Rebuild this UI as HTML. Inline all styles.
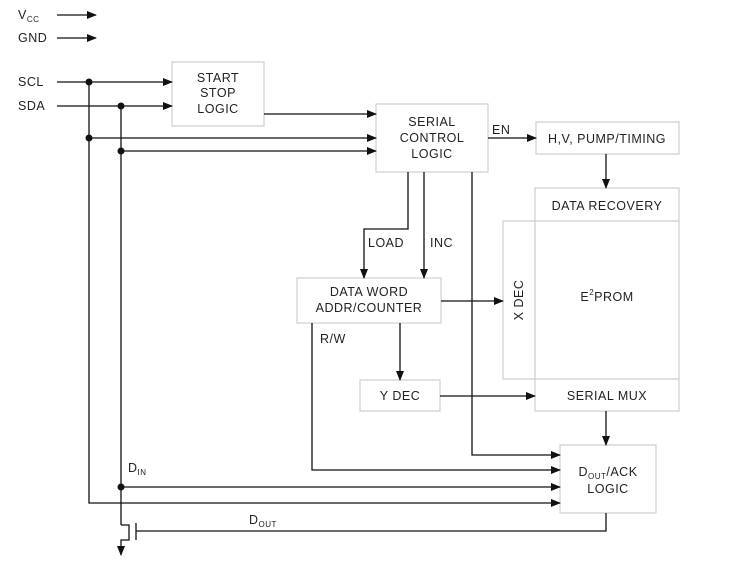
<!DOCTYPE html>
<html><head><style>
html,body{margin:0;padding:0;background:#fff}
svg{display:block}
text{font-family:"Liberation Sans",sans-serif;font-size:12.5px;fill:#222;letter-spacing:0.5px}
.b{fill:#fff;stroke:#cfcfcf;stroke-width:1.2}
.l{fill:none;stroke:#111;stroke-width:1.3}
</style></head><body>
<svg width="731" height="570" viewBox="0 0 731 570" xmlns="http://www.w3.org/2000/svg">
<defs><marker id="a" markerWidth="10" markerHeight="8" refX="9" refY="4" orient="auto" markerUnits="userSpaceOnUse"><path d="M0,0 L10,4 L0,8z" fill="#111"/></marker></defs>
<!-- boxes -->
<rect class="b" x="172" y="62" width="92" height="64"/>
<rect class="b" x="376" y="104" width="112" height="68"/>
<rect class="b" x="536" y="122" width="143" height="32"/>
<rect class="b" x="535" y="188" width="144" height="223"/>
<line class="b" x1="535" y1="221" x2="679" y2="221"/>
<rect class="b" x="503" y="221" width="32" height="158"/>
<line class="b" x1="535" y1="379" x2="679" y2="379"/>
<rect class="b" x="297" y="278" width="144" height="45"/>
<rect class="b" x="360" y="380" width="80" height="31"/>
<rect class="b" x="560" y="445" width="96" height="68"/>
<!-- lines -->
<line class="l" x1="57" y1="15" x2="96" y2="15" marker-end="url(#a)"/>
<line class="l" x1="57" y1="38" x2="96" y2="38" marker-end="url(#a)"/>
<line class="l" x1="57" y1="82" x2="172" y2="82" marker-end="url(#a)"/>
<line class="l" x1="57" y1="106" x2="172" y2="106" marker-end="url(#a)"/>
<polyline class="l" points="89,82 89,503 560,503" marker-end="url(#a)"/>
<line class="l" x1="121" y1="106" x2="121" y2="525"/>
<line class="l" x1="89" y1="138" x2="376" y2="138" marker-end="url(#a)"/>
<line class="l" x1="121" y1="151" x2="376" y2="151" marker-end="url(#a)"/>
<line class="l" x1="264" y1="114" x2="376" y2="114" marker-end="url(#a)"/>
<line class="l" x1="488" y1="138" x2="536" y2="138" marker-end="url(#a)"/>
<line class="l" x1="606" y1="154" x2="606" y2="188" marker-end="url(#a)"/>
<polyline class="l" points="408,172 408,229 364,229 364,278" marker-end="url(#a)"/>
<line class="l" x1="424" y1="172" x2="424" y2="278" marker-end="url(#a)"/>
<line class="l" x1="441" y1="301" x2="503" y2="301" marker-end="url(#a)"/>
<line class="l" x1="400" y1="323" x2="400" y2="380" marker-end="url(#a)"/>
<polyline class="l" points="312,323 312,470 560,470" marker-end="url(#a)"/>
<polyline class="l" points="472,172 472,455 560,455" marker-end="url(#a)"/>
<line class="l" x1="440" y1="396" x2="535" y2="396" marker-end="url(#a)"/>
<line class="l" x1="606" y1="411" x2="606" y2="445" marker-end="url(#a)"/>
<line class="l" x1="121" y1="487" x2="560" y2="487" marker-end="url(#a)"/>
<polyline class="l" points="606,513 606,531 136,531"/>
<line class="l" x1="136" y1="523" x2="136" y2="540"/>
<polyline class="l" points="121,525 129,525 129,540 121,540 121,555" marker-end="url(#a)"/>
<g fill="#111"><circle cx="89" cy="82" r="3.5"/><circle cx="121" cy="106" r="3.5"/><circle cx="89" cy="138" r="3.5"/><circle cx="121" cy="151" r="3.5"/><circle cx="121" cy="487" r="3.5"/></g>
<!-- text -->
<text x="18" y="19">V<tspan font-size="8" dy="3">CC</tspan></text>
<text x="18" y="42">GND</text>
<text x="18" y="86">SCL</text>
<text x="18" y="110">SDA</text>
<g text-anchor="middle">
<text x="218" y="82">START</text><text x="218" y="97">STOP</text><text x="218" y="113">LOGIC</text>
<text x="432" y="126">SERIAL</text><text x="432" y="142">CONTROL</text><text x="432" y="158">LOGIC</text>
<text x="607" y="143">H,V, PUMP/TIMING</text>
<text x="607" y="210">DATA  RECOVERY</text>
<text x="607" y="301">E<tspan font-size="8" dy="-6">2</tspan><tspan dy="6">PROM</tspan></text>
<text x="607" y="400">SERIAL  MUX</text>
<text x="369" y="296">DATA  WORD</text><text x="369" y="312">ADDR/COUNTER</text>
<text x="400" y="400">Y  DEC</text>
<text x="608" y="476">D<tspan font-size="8" dy="3">OUT</tspan><tspan dy="-3">/ACK</tspan></text>
<text x="608" y="493">LOGIC</text>
<text transform="translate(523,300) rotate(-90)">X  DEC</text>
</g>
<text x="492" y="134">EN</text>
<text x="368" y="247">LOAD</text>
<text x="430" y="247">INC</text>
<text x="320" y="343">R/W</text>
<text x="128" y="472">D<tspan font-size="8" dy="3">IN</tspan></text>
<text x="249" y="524">D<tspan font-size="8" dy="3">OUT</tspan></text>
</svg>
</body></html>
